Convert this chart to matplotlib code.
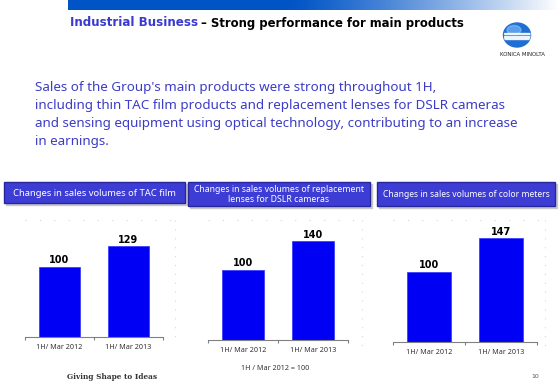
import numpy as np
import matplotlib
matplotlib.use("Agg")
import matplotlib.pyplot as plt
from matplotlib.patches import Rectangle, Ellipse

# ---- data ----
periods = ["1H/ Mar 2012", "1H/ Mar 2013"]
tac_film = [100, 129]
dslr_lenses = [100, 140]
color_meters = [100, 147]
panel_titles = ["Changes in sales volumes of TAC film",
                "Changes in sales volumes of replacement\nlenses for DSLR cameras",
                "Changes in sales volumes of color meters"]
title_blue = "Industrial Business"
title_black = " – Strong performance for main products"
body_lines = ["Sales of the Group's main products were strong throughout 1H,",
              "including thin TAC film products and replacement lenses for DSLR cameras",
              "and sensing equipment using optical technology, contributing to an increase",
              "in earnings."]
footnote = "1H / Mar 2012 = 100"
slogan = "Giving Shape to Ideas"
page_no = "10"

W, H = 560, 388
fig = plt.figure(figsize=(W / 100, H / 100), dpi=100)
fig.patch.set_facecolor("white")
renderer = fig.canvas.get_renderer()

ov = fig.add_axes([0, 0, 1, 1])
ov.axis("off")
ov.set_zorder(0)


def fit(t, target_w):
    """scale the font size of text t so that its width matches target_w px"""
    w = t.get_window_extent(renderer=renderer).width
    t.set_fontsize(t.get_fontsize() * target_w / w)
    return t


# top gradient band
cols = np.zeros((1, 256, 3))
c0 = np.array([0.0, 0.33, 0.78])
for i, t in enumerate(np.linspace(0, 1, 256)):
    tt = max(0, (t - 0.45) / 0.55) ** 1.2
    cols[0, i] = c0 * (1 - tt) + np.ones(3) * tt
ov.imshow(cols, extent=(68, 560, 10, 0), aspect="auto", zorder=1)
ov.set_xlim(0, W)
ov.set_ylim(H, 0)

# title
TF = "DejaVu Sans"
t1 = ov.text(70, 23, title_blue, color="#3a3ad0", fontsize=9, fontweight="bold",
             va="center", ha="left", family=TF)
fit(t1, 127)
t2 = ov.text(197, 23, title_black, color="black", fontsize=9, fontweight="bold",
             va="center", ha="left", family=TF)
fit(t2, 266)

# logo
globe = Ellipse((517, 35), 27, 24, color="#1f6fd2", zorder=2)
ov.add_patch(globe)
hl = Ellipse((514, 30), 14, 9, color="#8cc8ff", alpha=0.55, zorder=3)
ov.add_patch(hl)
for yy, hh in [(33.3, 1.0), (35.6, 1.4), (38.4, 1.0)]:
    r = Rectangle((503.5, yy), 27, hh, color="white", alpha=0.85, zorder=4)
    ov.add_patch(r)
    r.set_clip_path(globe)
tl = ov.text(522, 54, "KONICA MINOLTA", fontsize=4, ha="center", va="center",
             color="#222", family="DejaVu Sans")
fit(tl, 45)

# body text
body_y = [87, 105, 123, 141]
first = ov.text(35, body_y[0], body_lines[0], color="#3c3cc8", fontsize=10,
                ha="left", va="center", family="Noto Sans")
fit(first, 437 - 35)
fs_body = first.get_fontsize()
for line, y in zip(body_lines[1:], body_y[1:]):
    ov.text(35, y, line, color="#3c3cc8", fontsize=fs_body, ha="left",
            va="center", family="Noto Sans")

# panels
boxes = [(4, 182, 181, 21), (188, 182, 182, 24), (377, 182, 178, 24)]
title_w = [164, 169, 166]
axes_px = [(25, 163, 220, 337), (208, 348, 220, 340), (393, 537, 220, 342)]
right_dots = [175, 362, 545]
series = [tac_film, dslr_lenses, color_meters]

for k in range(3):
    bx, by, bw, bh = boxes[k]
    ov.add_patch(Rectangle((bx + 1.5, by + 1.5), bw, bh, color="#c8c8c8", zorder=2))
    ov.add_patch(Rectangle((bx, by), bw, bh, facecolor="#3d3dd6",
                           edgecolor="#26269a", lw=1.0, zorder=3))
    tt = ov.text(bx + bw / 2, by + bh / 2 + 0.5, panel_titles[k], color="white",
                 fontsize=7, ha="center", va="center", linespacing=1.0,
                 zorder=4, family="Noto Sans")
    fit(tt, title_w[k])

    x0, x1, y0, y1 = axes_px[k]
    ax = fig.add_axes([x0 / W, 1 - y1 / H, (x1 - x0) / W, (y1 - y0) / H])
    ax.set_zorder(1)
    ax.patch.set_alpha(0)
    vals = series[k]
    xs = np.arange(len(vals))
    ax.bar(xs, vals, width=0.6, color="#0000f5", edgecolor="#3030ff", lw=0.5)
    ax.set_xlim(-0.5, len(vals) - 0.5)
    ax.set_ylim(0, (y1 - y0) / 0.705)
    for x, v in zip(xs, vals):
        ax.text(x, v + 1.5, str(v), ha="center", va="bottom", fontsize=7,
                fontweight="bold", color="black")
    for s in ["top", "right", "left"]:
        ax.spines[s].set_visible(False)
    ax.spines["bottom"].set_color("#808080")
    ax.spines["bottom"].set_linewidth(0.8)
    ax.set_yticks([])
    ax.set_xticks(xs)
    ax.set_xticklabels(periods, fontsize=5.2, color="#333333", family="Noto Sans")
    ax.tick_params(axis="x", which="major", length=0, pad=5)
    ax.set_xticks(np.arange(-0.5, len(vals)), minor=True)
    ax.tick_params(axis="x", which="minor", length=2.5, color="#808080", width=0.8)

    ov.plot([x0, right_dots[k]], [y0, y0], ls=(0, (1, 12)), color="#d8d8d8", lw=0.8)
    ov.plot([right_dots[k], right_dots[k]], [y0, y1 + 6], ls=(0, (1, 7)),
            color="#d8d8d8", lw=0.8)

tf = ov.text(275, 369, footnote, fontsize=5.6, ha="center", va="center",
             color="#333", family="Noto Sans")
fit(tf, 68)
ts = ov.text(112, 377, slogan, fontsize=5.8, ha="center", va="center",
             color="#333", fontweight="bold", family="DejaVu Serif")
fit(ts, 89)
ov.text(535, 377, page_no, fontsize=4.5, ha="center", va="center", color="#555")

fig.savefig("out.png", dpi=100, facecolor="white")
